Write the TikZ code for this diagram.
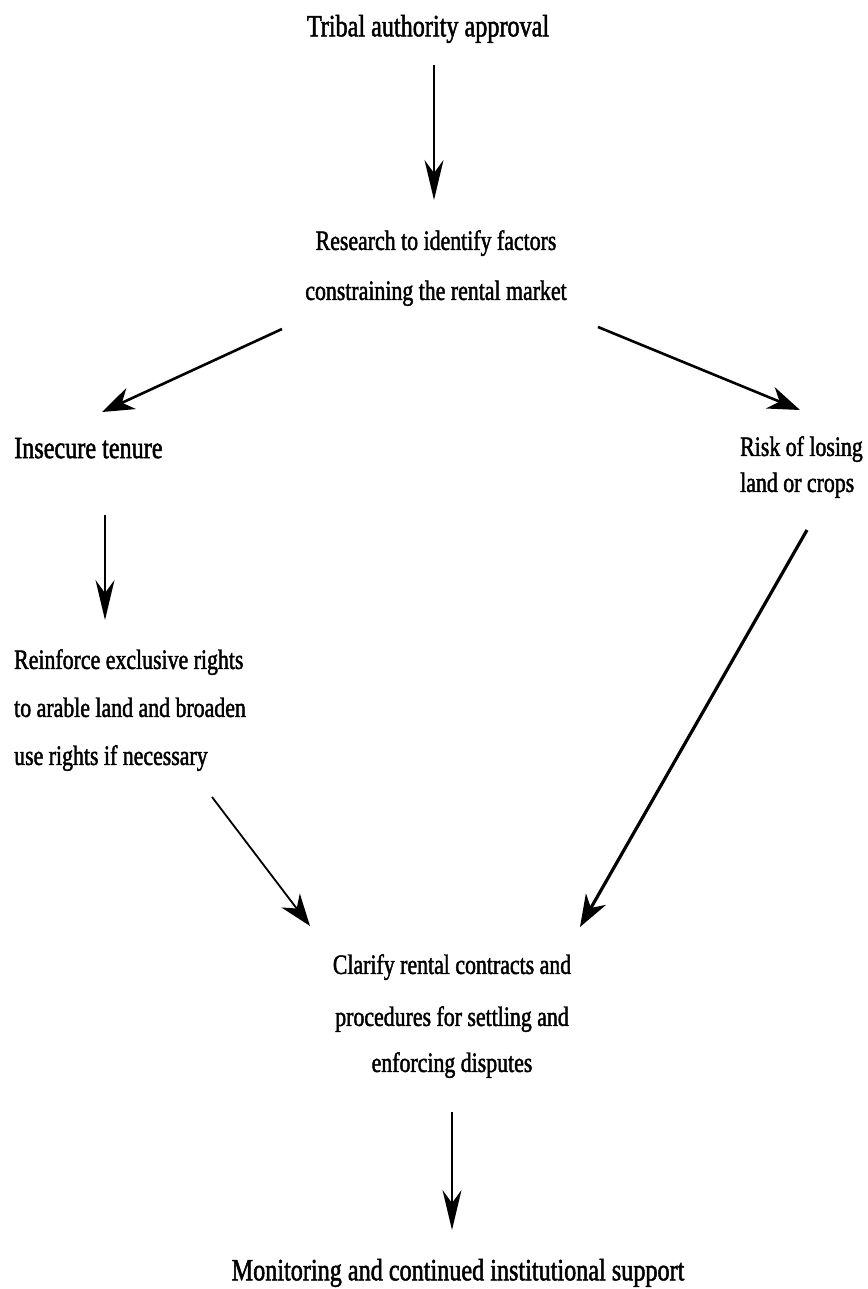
\documentclass[tikz,border=0pt]{standalone}
\usepackage{fontspec}
\setmainfont{Liberation Serif}[FakeStretch=0.78,FakeBold=1.6]
\usetikzlibrary{arrows.meta,calc}
\tikzset{
  lbl/.style={inner sep=0pt, font=\fontsize{28}{34}\selectfont},
  lblbig/.style={inner sep=0pt, font=\fontsize{31}{37}\selectfont},
  arrthin/.style={-{Stealth[length=40pt,width=19pt,inset=13pt]}, line width=1.8pt},
  arrdiag/.style={-{Stealth[length=32pt,width=23pt,inset=10pt]}, line width=2.6pt},
  arrdiagthin/.style={-{Stealth[length=32pt,width=23pt,inset=10pt]}, line width=1.8pt}
}
\begin{document}
\begin{tikzpicture}[x=1pt,y=-1pt]
\useasboundingbox (0,0) rectangle (867,1289);
\node[lblbig,anchor=north] (tribal) at (428,14.6) {Tribal authority approval};
\node[lbl,anchor=north,align=center] (research) at (436,230) {Research to identify factors\\[16pt]constraining the rental market};
\node[lblbig,anchor=north west] (insecure) at (14,437.6) {Insecure tenure};
\node[lbl,anchor=north west,align=left] (risk) at (740,436) {Risk of losing\\[2pt]land or crops};
\node[lbl,anchor=north west,align=left] (reinforce) at (14,649) {Reinforce exclusive rights\\[14pt]to arable land and broaden\\[14pt]use rights if necessary};
\node[lbl,anchor=north,align=center] (clarify) at (452,954) {Clarify rental contracts and\\[18pt]procedures for settling and\\[12pt]enforcing disputes};
\node[lblbig,anchor=north] (monitor) at (458,1258.6) {Monitoring and continued institutional support};

\draw[arrthin] ($(tribal.north)+(6,50.4)$) -- ($(research.north)+(-2,-30)$);
\draw[arrdiag] ($(research.north)+(-154,99)$) -- ($(insecure.north west)+(88,-25.6)$);
\draw[arrdiag] ($(research.north)+(162,97)$) -- ($(risk.north west)+(60,-26)$);
\draw[arrthin] ($(insecure.north west)+(91,77.4)$) -- ($(reinforce.north west)+(91,-29)$);
\draw[arrdiagthin] ($(reinforce.north west)+(198,148)$) -- ($(clarify.north)+(-142,-28)$);
\draw[arrdiag, line width=3.2pt] ($(risk.north west)+(67,94)$) -- ($(clarify.north)+(128,-27)$);
\draw[arrthin] ($(clarify.north)+(0,158)$) -- ($(monitor.north)+(-6,-28.6)$);
\end{tikzpicture}
\end{document}
